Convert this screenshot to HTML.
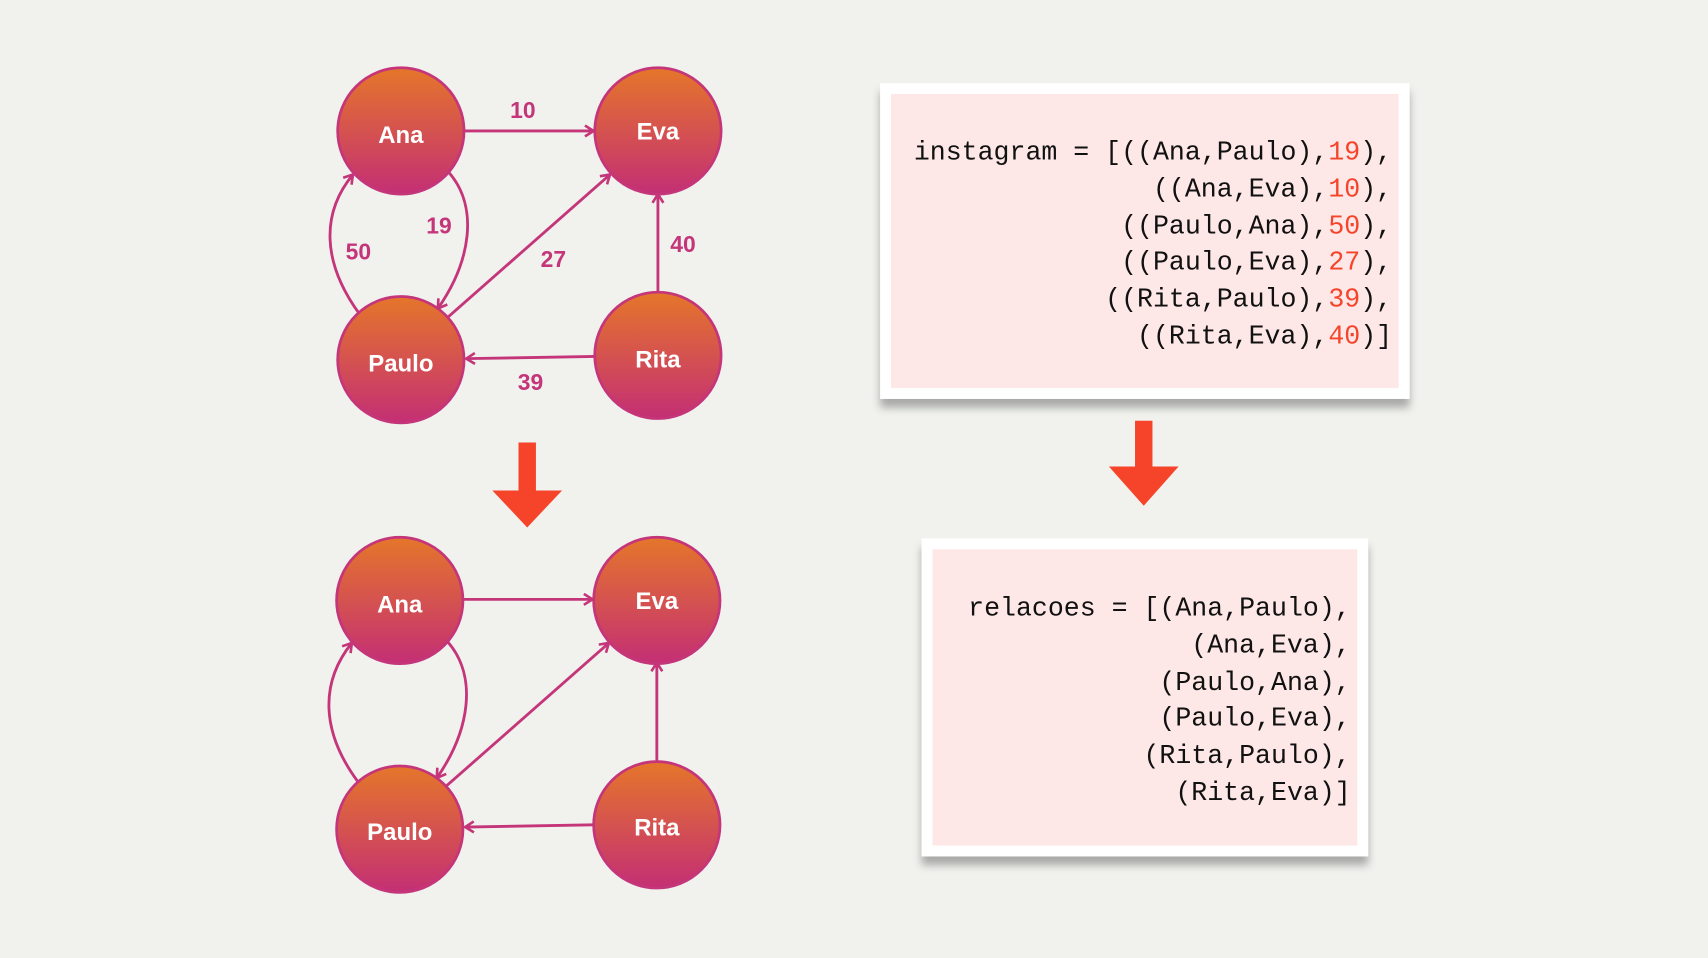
<!DOCTYPE html>
<html><head><meta charset="utf-8"><style>
html,body{margin:0;padding:0;background:#f1f2ee;}
svg{display:block;}
.n{font-family:"Liberation Sans",sans-serif;font-weight:bold;font-size:22px;fill:#fff;text-anchor:middle;}
.l{font-family:"Liberation Sans",sans-serif;font-weight:bold;font-size:21px;fill:#c4357a;text-anchor:middle;}
.c{font-family:"Liberation Mono",monospace;font-size:24.4px;fill:#111;text-anchor:end;}
.r{fill:#f5442a;}
</style></head><body>
<svg width="1708" height="958" viewBox="0 0 1568 879" xmlns="http://www.w3.org/2000/svg">
<defs>
<linearGradient id="g" x1="0" y1="0" x2="0" y2="1">
<stop offset="0" stop-color="#e5762a"/><stop offset="1" stop-color="#c42f74"/>
</linearGradient>
<marker id="a" markerWidth="12" markerHeight="12" refX="10" refY="6" orient="auto" markerUnits="userSpaceOnUse">
<path d="M2,1 L10,6 L2,11" fill="none" stroke="#c4357a" stroke-width="2.4"/>
</marker>
<filter id="sh" x="-5%" y="-5%" width="110%" height="115%"><feDropShadow dx="0" dy="8" stdDeviation="4" flood-color="#000" flood-opacity="0.3"/></filter>
</defs>
<rect width="1568" height="879" fill="#f1f2ee"/>

<g stroke="#c4357a" stroke-width="2.6" fill="none" marker-end="url(#a)">
<line x1="427" y1="120" x2="545" y2="120"/>
<path d="M412,158 C440,190 432,240 402,283"/>
<path d="M330,288 C295,240 295,195 324,160"/>
<line x1="410" y1="292" x2="560" y2="160"/>
<line x1="604" y1="268" x2="604" y2="178"/>
<line x1="546" y1="327" x2="428" y2="329"/>

<line x1="426" y1="550" x2="544" y2="550"/>
<path d="M411,589 C439,621 431,671 401,714"/>
<path d="M329,718 C294,671 294,626 323,590"/>
<line x1="409" y1="722" x2="559" y2="590"/>
<line x1="603" y1="699" x2="603" y2="608"/>
<line x1="545" y1="757" x2="427" y2="759"/>
</g>

<g stroke="#c4357a" stroke-width="2.5" fill="url(#g)">
<circle cx="368" cy="120" r="58"/><circle cx="604" cy="120" r="58"/>
<circle cx="368" cy="330" r="58"/><circle cx="604" cy="326" r="58"/>
<circle cx="367" cy="551" r="58"/><circle cx="603" cy="551" r="58"/>
<circle cx="367" cy="761" r="58"/><circle cx="603" cy="757" r="58"/>
</g>
<text class="n" x="368" y="131">Ana</text><text class="n" x="604" y="128">Eva</text>
<text class="n" x="368" y="341">Paulo</text><text class="n" x="604" y="337">Rita</text>
<text class="n" x="367" y="562">Ana</text><text class="n" x="603" y="559">Eva</text>
<text class="n" x="367" y="771">Paulo</text><text class="n" x="603" y="767">Rita</text>

<text class="l" x="480" y="108">10</text>
<text class="l" x="403" y="214">19</text>
<text class="l" x="329" y="238">50</text>
<text class="l" x="508" y="245">27</text>
<text class="l" x="627" y="231">40</text>
<text class="l" x="487" y="358">39</text>

<rect class="r" x="476" y="406" width="16" height="46"/>
<polygon class="r" points="452,450 516,450 484,484"/>
<rect class="r" x="1042" y="386" width="16" height="44"/>
<polygon class="r" points="1018,428 1082,428 1050,464"/>

<rect x="808" y="76" width="486" height="290" fill="#fff" filter="url(#sh)"/>
<rect x="818" y="86" width="466" height="270" fill="#fde8e7"/>
<text class="c" x="1278" y="146">instagram = [((Ana,Paulo),<tspan fill="#f5442a">19</tspan>),</text>
<text class="c" x="1278" y="180">((Ana,Eva),<tspan fill="#f5442a">10</tspan>),</text>
<text class="c" x="1278" y="214">((Paulo,Ana),<tspan fill="#f5442a">50</tspan>),</text>
<text class="c" x="1278" y="247">((Paulo,Eva),<tspan fill="#f5442a">27</tspan>),</text>
<text class="c" x="1278" y="281">((Rita,Paulo),<tspan fill="#f5442a">39</tspan>),</text>
<text class="c" x="1278" y="315">((Rita,Eva),<tspan fill="#f5442a">40</tspan>)]</text>

<rect x="846" y="494" width="410" height="292" fill="#fff" filter="url(#sh)"/>
<rect x="856" y="504" width="390" height="272" fill="#fde8e7"/>
<text class="c" x="1240" y="565">relacoes = [(Ana,Paulo),</text>
<text class="c" x="1240" y="599">(Ana,Eva),</text>
<text class="c" x="1240" y="633">(Paulo,Ana),</text>
<text class="c" x="1240" y="666">(Paulo,Eva),</text>
<text class="c" x="1240" y="700">(Rita,Paulo),</text>
<text class="c" x="1240" y="734">(Rita,Eva)]</text>
</svg>
</body></html>
